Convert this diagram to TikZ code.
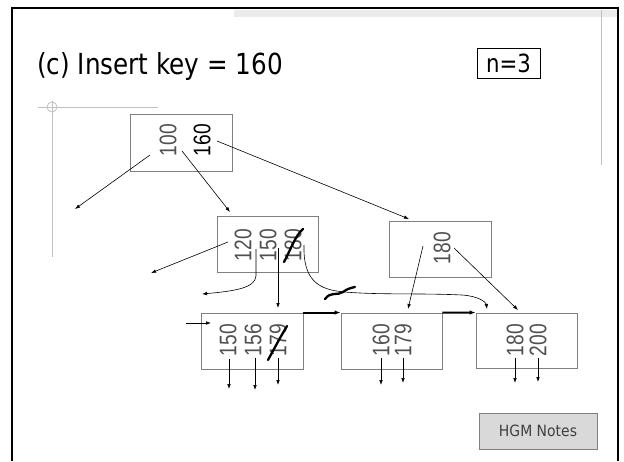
\documentclass[tikz,border=0pt]{standalone}
\usepackage{fontspec}
\setmainfont{DejaVu Sans}
\newfontfamily\digfont{Liberation Sans}
\usetikzlibrary{arrows.meta}
\definecolor{boxgray}{HTML}{808080}
\definecolor{keygray}{HTML}{505050}
\definecolor{lightline}{HTML}{C0C0C0}
\definecolor{bandgray}{HTML}{EBEBEB}
\definecolor{notefill}{HTML}{D9D9D9}
\newcommand{\kd}[1]{\scalebox{0.8}[1]{#1}}
\begin{document}
\begin{tikzpicture}[x=1pt,y=-1pt,
  box/.style={draw=boxgray, line width=0.9pt, inner sep=0pt},
  key/.style={rotate=90, inner sep=0pt, text=keygray, font=\digfont\fontsize{24}{24}\selectfont},
  keyb/.style={key, text=black},
  ptr/.style={-{Latex[length=5pt,width=3.6pt]}, line width=0.6pt},
  thickptr/.style={-{Latex[length=6pt,width=4.5pt]}, line width=2pt},
  strike/.style={line width=2.3pt, line cap=round, line join=round},
  guide/.style={draw=lightline, line width=0.8pt}]
\useasboundingbox (0,0) rectangle (624,461);
% slide decorations
\fill[bandgray] (234,10) rectangle (617,17);
\draw[guide] (601,10) -- (601,165);
\draw[guide] (38,107) -- (158,107);
\draw[guide] (52,101) -- (52,257);
\draw[guide] (52,107) circle (5);
\draw[line width=2.4pt] (12,461) -- (12,8) -- (618,8) -- (618,461);
% title and labels
\node[anchor=west, inner sep=0pt, font=\fontsize{29}{29}\selectfont] (title) at (37,66) {\scalebox{0.85}[1]{(c) Insert key = 160}};
\node[draw=black, line width=0.9pt, minimum width=63pt, minimum height=30pt, inner sep=0pt, font=\fontsize{25}{25}\selectfont] (nbox) at (508.5,63) {\scalebox{0.85}[1]{n=3}};
\node[draw=boxgray, fill=notefill, line width=0.9pt, minimum width=118pt, minimum height=36pt, inner sep=0pt, text=keygray!80!black, font=\fontsize{15.5}{15.5}\selectfont] (notes) at (538,431) {\scalebox{0.9}[1]{HGM Notes}};
% boxes
\node[box, minimum width=102pt, minimum height=57pt] (root) at (181,142.5) {};
\node[box, minimum width=101pt, minimum height=56pt] (mid) at (267.5,244) {};
\node[box, minimum width=102pt, minimum height=56pt] (rbox) at (440,249) {};
\node[box, minimum width=102pt, minimum height=56pt] (l1) at (252,341) {};
\node[box, minimum width=101pt, minimum height=56pt] (l2) at (391.5,341) {};
\node[box, minimum width=101pt, minimum height=55pt] (l3) at (526.5,340.5) {};
% keys
\node[key] (k100) at (168,140) {\kd{100}};
\node[keyb] (k160) at (202,140) {\kd{160}};
\node[key] (k120) at (243,245) {\kd{120}};
\node[key] (k150) at (268,245) {\kd{150}};
\node[key] (k180m) at (293,245) {\kd{180}};
\node[key] (k180r) at (442,248) {\kd{180}};
\node[key] (a150) at (228,340) {\kd{150}};
\node[key] (a156) at (253,340) {\kd{156}};
\node[key] (a179) at (278,340) {\kd{179}};
\node[key] (b160) at (381,340) {\kd{160}};
\node[key] (b179) at (403,340) {\kd{179}};
\node[key] (c180) at (515,340) {\kd{180}};
\node[key] (c200) at (538,340) {\kd{200}};
% pointer coordinates
\coordinate (r0) at (150,155); \coordinate (r0e) at (75,209);
\coordinate (r1) at (182,151); \coordinate (r1e) at (230,212);
\coordinate (r2) at (217,141); \coordinate (r2e) at (409,219);
\coordinate (m0) at (228,242); \coordinate (m0e) at (151,273);
\coordinate (m1) at (256,249); \coordinate (m1e) at (202,294);
\coordinate (m2) at (278,248); \coordinate (m2e) at (278,308);
\coordinate (m3) at (304,245); \coordinate (m3e) at (487,309);
\coordinate (q0) at (423,246); \coordinate (q0e) at (408,309);
\coordinate (q1) at (454,248); \coordinate (q1e) at (518,310);
\coordinate (in1) at (186,323); \coordinate (in1e) at (211,323);
\coordinate (a0) at (229,359); \coordinate (a0e) at (229,389);
\coordinate (a1) at (255,358); \coordinate (a1e) at (255,390);
\coordinate (a2) at (278,358); \coordinate (a2e) at (278,385);
\coordinate (b0) at (381,358); \coordinate (b0e) at (381,385);
\coordinate (b1) at (403,358); \coordinate (b1e) at (403,383);
\coordinate (c0) at (515,358); \coordinate (c0e) at (515,383);
\coordinate (c1) at (538,358); \coordinate (c1e) at (538,382);
% pointers
\draw[ptr] (r0) -- (r0e);
\draw[ptr] (r1) -- (r1e);
\draw[ptr] (r2) -- (r2e);
\draw[ptr] (m0) -- (m0e);
\draw[ptr] (m1) -- (256,276) .. controls (255,288) and (235,291) .. (m1e);
\draw[ptr] (m2) -- (m2e);
\draw[ptr] (m3) .. controls (303,280) and (318,290) .. (345,292)
  .. controls (380,295) and (420,293) .. (462,295)
  .. controls (478,296) and (486,302) .. (m3e);
\draw[ptr] (q0) -- (q0e);
\draw[ptr] (q1) -- (q1e);
\draw[ptr] (in1) -- (in1e);
\foreach \s in {a0,a1,a2,b0,b1,c0,c1} \draw[ptr] (\s) -- (\s e);
% leaf chain
\draw[thickptr] (l1.north east) -- (l2.north west);
\draw[thickptr] (l2.north east) .. controls (455,313) and (462,312.5) .. (l3.north west);
% handwritten strikes
\draw[strike] (284,262) .. controls (291,249) and (295,236) .. (303,229);
\draw[strike] (268,360) -- (280,338) -- (287,326);
\draw[strike] (325,299) .. controls (331,291) and (337,296) .. (343,292) .. controls (347,289) and (350,288) .. (355,287);
\end{tikzpicture}
\end{document}
